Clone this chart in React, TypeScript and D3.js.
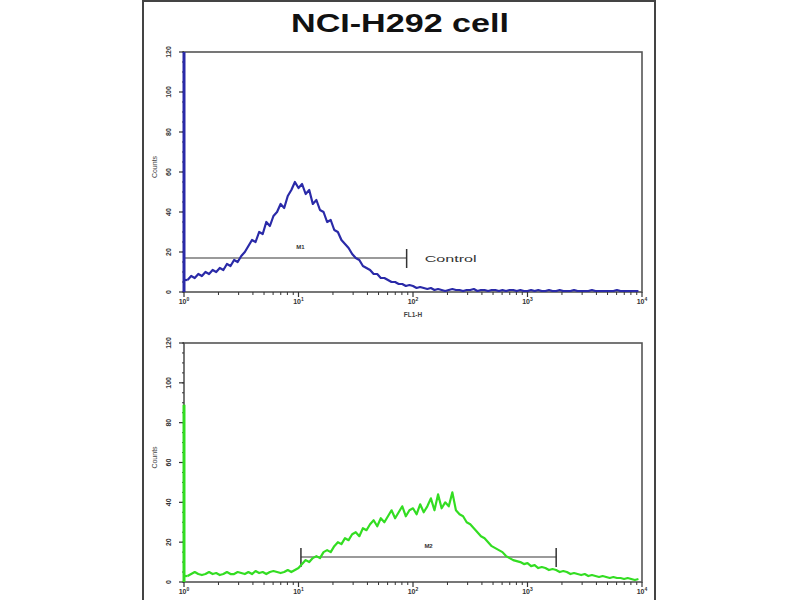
import React from "react";
import * as d3 from "d3";

const title = "NCI-H292 cell";
const xTickValues = [1, 10, 100, 1000, 10000];
const xTickExponents = ["0", "1", "2", "3", "4"];
const yTickValues = [0, 20, 40, 60, 80, 100, 120];

// control (blue) histogram counts, 128 log-spaced channels over 4 decades
const controlCounts = [
  250, 6, 8, 7, 9, 8, 10, 9, 11, 10, 12, 11, 14, 13, 16, 15, 18, 20, 23, 26,
  25, 30, 29, 35, 33, 38, 40, 44, 42, 48, 51, 55, 52, 54, 49, 51, 44, 46, 41, 40,
  35, 36, 31, 30, 26, 24, 22, 19, 17, 16, 13, 12, 11, 9, 9, 7, 7, 6, 5, 5,
  4, 4, 3, 3.5, 3, 2, 2.5, 2, 1.5, 2,
  1, 1.5, 1, 0.5, 1, 1.5, 1, 1, 0.5, 1, 1, 1.5, 0.5, 1, 1, 0.5, 1, 1, 0.5, 1,
  0.5, 1, 1, 0.5, 1, 0.5, 0.5, 1, 0.5, 1, 0.5, 0.5, 1, 0.5, 0.5, 1, 0.5, 0.5, 0.5, 1,
  0.5, 0.5, 0.5, 0.5, 1, 0.5, 0.5, 0.5, 0.5, 0.5, 0.5, 1, 0.5, 0.5, 0.5, 0.5, 0.5, 0.5,
];

// stained (green) histogram counts
const sampleCounts = [
  89, 3, 4, 5, 4, 3.5, 4, 5, 4, 4.5, 3.5, 4, 5, 4, 4, 5, 4.5, 4, 5, 4,
  5.5, 4.5, 5, 4, 5, 5.5, 5, 4.5, 5, 6, 5, 6, 7, 9, 11, 10, 12, 13, 12, 15,
  16, 15, 18, 20, 19, 22, 21, 24, 25, 23, 27, 26, 29, 31, 28, 32, 30, 33, 36, 32,
  35, 38, 33, 36, 37, 34, 39, 35, 38, 42, 36, 44, 37, 40, 38, 45, 36, 34, 33, 30,
  29, 27, 25, 23, 22, 20, 18, 17, 16, 15, 13, 12, 11, 10.5, 10, 9, 9.5, 8, 8.5, 7,
  7.5, 7, 6, 6.5, 6, 5, 5.5, 5, 4, 4.5, 4, 3.5, 4, 3, 3.5, 3, 2.5, 3, 2.5, 2,
  2.5, 2, 2, 1.5, 2, 1.5, 1, 1.5,
];

const markerM1 = [1, 88];
const markerM1Level = 17;
const markerM2 = [10.5, 1780];
const markerM2Level = 12.5;

const L = 184, R = 642;
const channelsPerDecade = 32;

function Panel({ top, bottom, counts, color, marker, level, markerLabel, leftTick, showXLabel, controlText, clipId }: any) {
  const x = d3.scaleLog().domain([1, 10000]).range([L, R]);
  const y = d3.scaleLinear().domain([0, 120]).range([bottom, top]);
  const pts: [number, number][] = counts.map((c: number, i: number) => [x(Math.pow(10, i / channelsPerDecade)), y(c)]);
  const line = d3.line()(pts.slice(1)) || "";
  const minorX: number[] = [];
  for (let d = 0; d < 4; d++) for (let m = 2; m <= 9; m++) minorX.push(m * Math.pow(10, d));
  const minorY = d3.range(0, 121, 5);
  const mx0 = x(marker[0]), mx1 = x(marker[1]), my = y(level);
  return (
    <g>
      <defs>
        <clipPath id={clipId}>
          <rect x={L - 2} y={top} width={R - L + 4} height={bottom - top} />
        </clipPath>
      </defs>
      <rect x={L} y={top} width={R - L} height={bottom - top} fill="#fff" stroke="#555" strokeWidth={1.6} />
      {minorY.map((v) => (
        <line key={"my" + v} x1={L - 2} x2={L} y1={y(v)} y2={y(v)} stroke="#333" strokeWidth={1} />
      ))}
      {yTickValues.map((v) => (
        <g key={"yt" + v}>
          <line x1={L - 5} x2={L} y1={y(v)} y2={y(v)} stroke="#333" strokeWidth={1.2} />
          <text transform={`translate(${169},${y(v)}) rotate(-90)`} textAnchor="middle" dy="0.35em"
            fontSize={7} fontWeight="bold" fontFamily="Liberation Sans, Arial, sans-serif" fill="#333">{v}</text>
        </g>
      ))}
      <text transform={`translate(${155},${(top + bottom) / 2 - 5}) rotate(-90)`} textAnchor="middle" dy="0.35em"
        fontSize={7} fontFamily="Liberation Sans, Arial, sans-serif" fill="#444">Counts</text>
      {minorX.map((v) => (
        <line key={"mx" + v} x1={x(v)} x2={x(v)} y1={bottom} y2={bottom + 3} stroke="#333" strokeWidth={1} />
      ))}
      {xTickValues.map((v, i) => (
        <g key={"xt" + v}>
          <line x1={x(v)} x2={x(v)} y1={bottom} y2={bottom + 5} stroke="#333" strokeWidth={1.2} />
          <text x={x(v)} y={bottom + 12} textAnchor="middle" fontSize={7} fontWeight="bold"
            fontFamily="Liberation Sans, Arial, sans-serif" fill="#333">
            10<tspan dy={-3} fontSize={5}>{xTickExponents[i]}</tspan>
          </text>
        </g>
      ))}
      {showXLabel && (
        <text x={x(100)} y={bottom + 25} textAnchor="middle" fontSize={6.5} fontWeight="bold"
          fontFamily="Liberation Sans, Arial, sans-serif" fill="#444">FL1-H</text>
      )}
      <line x1={mx0} x2={mx1} y1={my} y2={my} stroke="#9a9a9a" strokeWidth={2} />
      {leftTick && <line x1={mx0} x2={mx0} y1={my - 9} y2={my + 10} stroke="#333" strokeWidth={1.5} />}
      <line x1={mx1} x2={mx1} y1={my - 9} y2={my + 10} stroke="#333" strokeWidth={1.5} />
      <text x={(mx0 + mx1) / 2 + (leftTick ? 0 : 5)} y={my - 9} textAnchor="middle" fontSize={6} fontWeight="bold"
        fontFamily="Liberation Sans, Arial, sans-serif" fill="#333">{markerLabel}</text>
      {controlText && (
        <text x={mx1 + 18} y={my + 4} fontSize={8.5} textLength={52} lengthAdjust="spacingAndGlyphs"
          fontFamily="Liberation Sans, Arial, sans-serif" fill="#333">{controlText}</text>
      )}
      <g clipPath={`url(#${clipId})`}>
        <line x1={x(1)} x2={x(1)} y1={bottom} y2={y(counts[0])} stroke={color} strokeWidth={3} />
        <line x1={x(1)} x2={pts[1][0]} y1={pts[1][1]} y2={pts[1][1]} stroke={color} strokeWidth={2.2} />
        <path d={line} fill="none" stroke={color} strokeWidth={2.2} strokeLinejoin="round" />
      </g>
    </g>
  );
}

export default function App() {
  return (
    <svg width={800} height={600} style={{ position: "absolute", left: 0, top: 0, background: "#fff" }}>
      <rect x={0} y={0} width={800} height={600} fill="#fff" />
      <line x1={143} x2={143} y1={0} y2={600} stroke="#444" strokeWidth={2} />
      <line x1={655} x2={655} y1={0} y2={600} stroke="#444" strokeWidth={2} />
      <line x1={143} x2={655} y1={1} y2={1} stroke="#444" strokeWidth={2} />
      <text x={400} y={32} textAnchor="middle" fontSize={26} fontWeight="bold" textLength={218}
        lengthAdjust="spacingAndGlyphs" fontFamily="Liberation Sans, Arial, sans-serif" fill="#111">{title}</text>
      <Panel top={52} bottom={292} counts={controlCounts} color="#2a2aa8" marker={markerM1} level={markerM1Level}
        markerLabel="M1" leftTick={false} showXLabel={true} controlText="Control" clipId="c1" />
      <Panel top={343} bottom={582} counts={sampleCounts} color="#33dd22" marker={markerM2} level={markerM2Level}
        markerLabel="M2" leftTick={true} showXLabel={false} clipId="c2" />
    </svg>
  );
}
